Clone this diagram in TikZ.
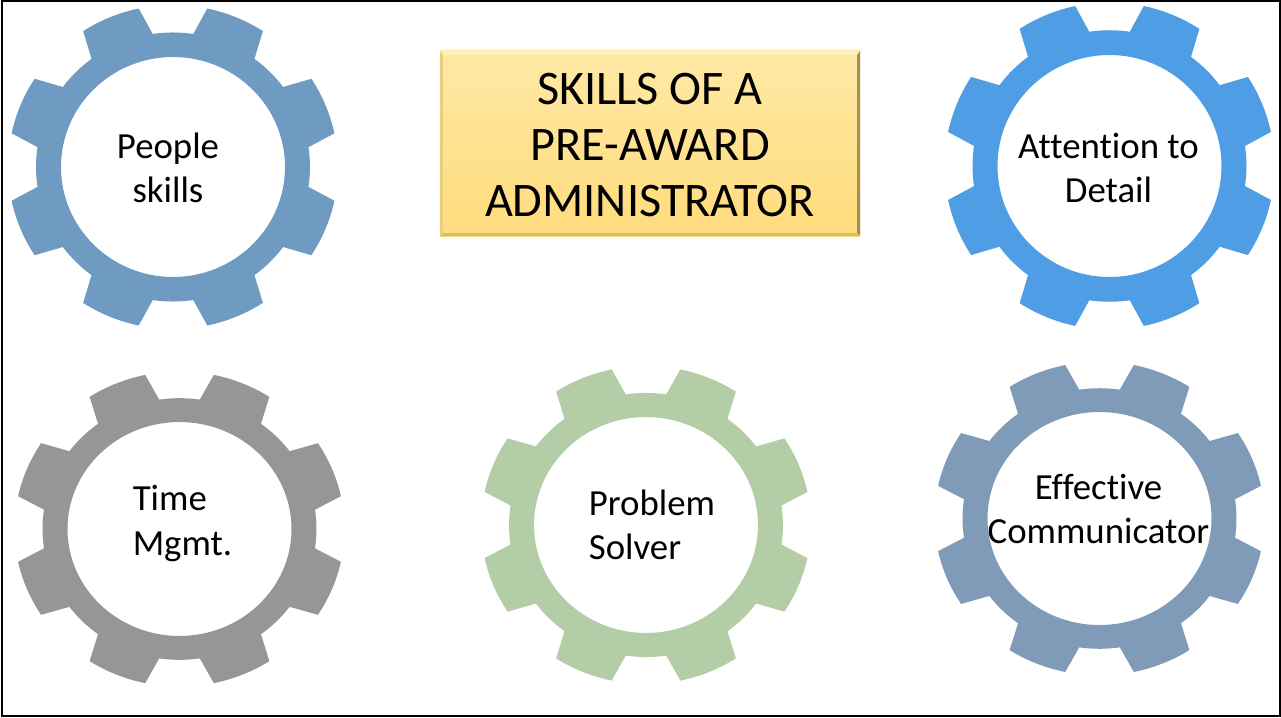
\documentclass[tikz,border=0pt]{standalone}
\usepackage{fontspec}
\setmainfont[Ligatures=CommonOff]{Carlito}
\usepackage{tikz}
\usetikzlibrary{positioning}
\definecolor{gearblue}{HTML}{6F9BC3}
\definecolor{gearsky}{HTML}{4F9DE4}
\definecolor{geargray}{HTML}{969696}
\definecolor{geargreen}{HTML}{B3CDA6}
\definecolor{gearslate}{HTML}{7F9BB7}
\definecolor{boxtop}{HTML}{FFE9A6}
\definecolor{boxgold}{HTML}{FFDB7C}
\definecolor{bevellight}{HTML}{FFF0B8}
\definecolor{beveldark}{HTML}{A88F4E}
\definecolor{bevelbottom}{HTML}{D8BC6A}
\definecolor{bevelleft}{HTML}{E9CE7C}
\tikzset{
x=1pt, y=-1pt, % one unit is one pixel of the reference, counted from the top left
gear/.pic={ % eight teeth round a hole
    \fill[even odd rule, pic actions]
        (8.5:137) \foreach \a in {22.5,67.5,...,337.5}{
            -- ({\a-10.5}:165) arc[start angle=\a-10.5, end angle=\a+10.5, radius=165]
            -- ({\a+14}:137) arc[start angle=\a+14, end angle=\a+31, radius=137]
        } -- cycle
        (0,0) circle[radius=112];
},
skill/.style={font=\fontsize{36.8}{44.5}\selectfont, inner sep=0pt, align=center}, % sets the text in a gear
titlebox/.style={minimum width=420pt, minimum height=185pt, inner sep=0pt, top color=boxtop, bottom color=boxgold},
titletext/.style={font=\fontsize{48.2}{56}\selectfont, inner sep=0pt, align=center},
}
\begin{document}
\begin{tikzpicture}
    \useasboundingbox (0,0) rectangle (1281,717);
    \draw[line width=2pt] (2,1) rectangle (1279.5,715.5);
    \pic[fill=gearblue, yscale=0.982] at (173,167) {gear};
    \pic[fill=gearsky, yscale=0.991] at (1109.5,166) {gear};
    \pic[fill=geargray, yscale=0.955] at (179.5,529) {gear};
    \pic[fill=geargreen, yscale=0.964] at (646,525) {gear};
    \pic[fill=gearslate, yscale=0.951] at (1099.5,518.5) {gear};
    \node[titlebox] (title) at (650,143.5) {};
    \fill[bevellight] (title.north west) -- (title.north east) -- ++(-4,4) -- ++(-412,0) -- cycle;
    \fill[beveldark] (title.north east) -- (title.south east) -- ++(-3,-3) -- ++(0,-178) -- cycle;
    \fill[bevelbottom] (title.south west) -- (title.south east) -- ++(-3,-3) -- ++(-414,0) -- cycle;
    \fill[bevelleft] (title.north west) -- (title.south west) -- ++(3,-3) -- ++(0,-178) -- cycle;
    \node[titletext, yshift=-1.5pt] (titlewords) at (title) {SKILLS OF A\\PRE-AWARD\\ADMINISTRATOR};
    \node[skill] (people) at (168,168) {People\\skills};
    \node[skill, right of=people, node distance=940.5pt] (detail) {Attention to\\Detail};
    \node[skill, align=left] (mgmt) at (182.5,523.5) {Time\\Mgmt.};
    \node[skill, align=left] (solver) at (652,525) {Problem\\Solver};
    \node[skill] (comm) at (1098.5,509) {Effective\\Communicator};
\end{tikzpicture}
\end{document}
